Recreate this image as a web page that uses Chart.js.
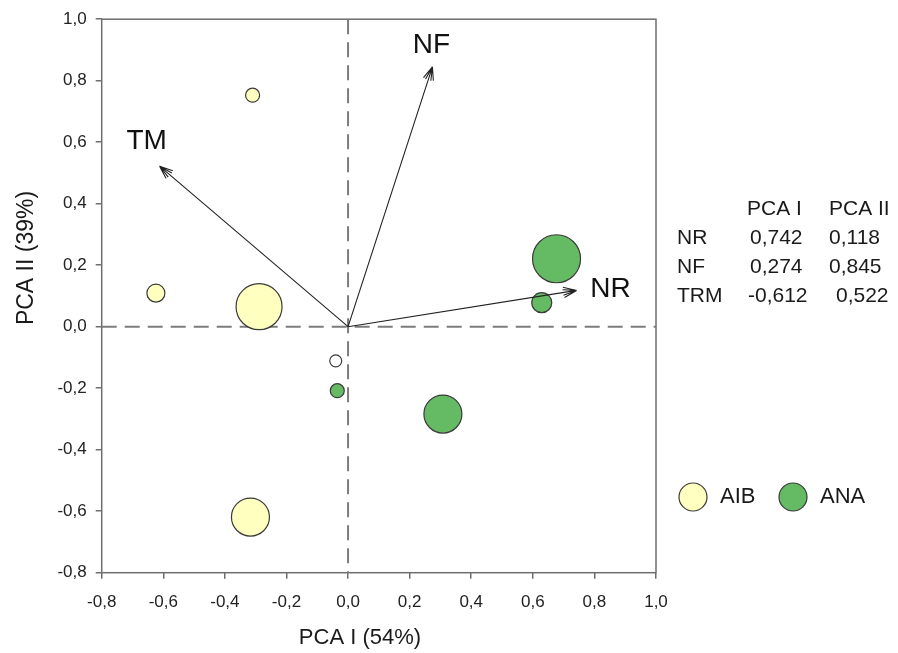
<!DOCTYPE html>
<html>
<head>
<meta charset="utf-8">
<script src="https://cdn.jsdelivr.net/npm/chart.js@4.4.1/dist/chart.umd.min.js"></script>
<style>
  html, body { margin: 0; padding: 0; background: #fff; }
</style>
</head>
<body>
<canvas id="pca" width="898" height="653"></canvas>
<script>
// axis ticks (both axes use the same range)
const axisTicks = [-0.8, -0.6, -0.4, -0.2, 0.0, 0.2, 0.4, 0.6, 0.8, 1.0];

// site scores (size = bubble radius)
const aibX = [-0.31, -0.624, -0.289, -0.317];
const aibY = [0.753, 0.109, 0.065, -0.619];
const aibSize = [7, 9, 23, 19];

const anaX = [0.677, 0.629, 0.308, -0.035];
const anaY = [0.221, 0.078, -0.284, -0.208];
const anaSize = [24, 10, 19, 7];

const otherX = [-0.04];
const otherY = [-0.111];
const otherSize = [6];

// variable loadings
const variables = ["NR", "NF", "TRM"];
const arrowLabels = ["NR", "NF", "TM"];
const loadingPC1 = [0.742, 0.274, -0.612];
const loadingPC2 = [0.118, 0.845, 0.522];

const groupNames = ["AIB", "ANA"];
const FONT = '"Liberation Sans", Arial, Helvetica, sans-serif';
const AIB_COLOR = "#ffffc0";
const ANA_COLOR = "#64bb64";
const EDGE = "#3a3a3a";
const AXIS_GREY = "#6e6e6e";

function toPoints(xs, ys, rs) {
  return xs.map((x, i) => ({ x, y: ys[i], r: rs[i] }));
}

function fmt(v) {
  if (Math.abs(v) < 1e-9) v = 0;
  return v.toFixed(1).replace(".", ",");
}

function fmt3(v) {
  return v.toFixed(3).replace(".", ",");
}

function arrow(ctx, x1, y1, x2, y2) {
  const ang = Math.atan2(y2 - y1, x2 - x1);
  ctx.beginPath();
  ctx.moveTo(x1, y1);
  ctx.lineTo(x2, y2);
  [0.38, 0.2, -0.2, -0.38].forEach((d) => {
    ctx.moveTo(x2, y2);
    ctx.lineTo(x2 - 14 * Math.cos(ang + d), y2 - 14 * Math.sin(ang + d));
  });
  ctx.stroke();
}

const overlay = {
  id: "overlay",
  beforeDatasetsDraw(chart) {
    const { ctx, chartArea: a, scales } = chart;
    const x0 = scales.x.getPixelForValue(0);
    const y0 = scales.y.getPixelForValue(0);
    ctx.save();
    // frame
    ctx.strokeStyle = AXIS_GREY;
    ctx.lineWidth = 1.5;
    ctx.strokeRect(a.left, a.top, a.right - a.left, a.bottom - a.top);
    // zero lines
    ctx.strokeStyle = "#7c7c7c";
    ctx.lineWidth = 2;
    ctx.setLineDash([15, 8]);
    ctx.beginPath();
    ctx.moveTo(a.left, y0);
    ctx.lineTo(a.right, y0);
    ctx.moveTo(x0, a.top);
    ctx.lineTo(x0, a.bottom);
    ctx.stroke();
    ctx.restore();
  },
  afterDatasetsDraw(chart) {
    const { ctx, scales } = chart;
    const x0 = scales.x.getPixelForValue(0);
    const y0 = scales.y.getPixelForValue(0);
    const labelOffset = [[34, -1], [-1, -22], [-13, -25]];
    ctx.save();
    ctx.strokeStyle = "#222";
    ctx.lineWidth = 1.1;
    ctx.fillStyle = "#111";
    ctx.font = "28px " + FONT;
    ctx.textAlign = "center";
    ctx.textBaseline = "middle";
    variables.forEach((v, i) => {
      const px = scales.x.getPixelForValue(loadingPC1[i]);
      const py = scales.y.getPixelForValue(loadingPC2[i]);
      arrow(ctx, x0, y0, px, py);
      ctx.fillText(arrowLabels[i], px + labelOffset[i][0], py + labelOffset[i][1]);
    });
    ctx.restore();
  },
  afterDraw(chart) {
    const { ctx } = chart;
    ctx.save();
    ctx.fillStyle = "#1a1a1a";
    // axis titles
    ctx.font = "22px " + FONT;
    ctx.textAlign = "center";
    ctx.textBaseline = "middle";
    ctx.fillText("PCA I (54%)", 360, 638);
    ctx.save();
    ctx.translate(27, 258);
    ctx.rotate(-Math.PI / 2);
    ctx.font = "23px " + FONT;
    ctx.fillText("PCA II (39%)", 0, 0);
    ctx.restore();

    // loadings table
    ctx.font = "21px " + FONT;
    ctx.textAlign = "left";
    ctx.fillText("PCA I", 747, 209);
    ctx.fillText("PCA II", 829, 209);
    variables.forEach((v, i) => {
      const ty = 238 + i * 29;
      ctx.fillText(v, 677, ty);
      ctx.fillText(fmt3(loadingPC1[i]), loadingPC1[i] < 0 ? 748 : 750, ty);
      ctx.fillText(fmt3(loadingPC2[i]), i === 2 ? 836 : 829, ty);
    });

    // legend
    const legendColors = [AIB_COLOR, ANA_COLOR];
    const legendX = [693, 793];
    ctx.font = "22px " + FONT;
    groupNames.forEach((g, i) => {
      ctx.beginPath();
      ctx.arc(legendX[i], 497, 14, 0, Math.PI * 2);
      ctx.fillStyle = legendColors[i];
      ctx.fill();
      ctx.strokeStyle = EDGE;
      ctx.lineWidth = 1.2;
      ctx.stroke();
      ctx.fillStyle = "#1a1a1a";
      ctx.fillText(g, legendX[i] + 27, 497);
    });
    ctx.restore();
  },
};

function axisOptions(isX) {
  return {
    type: "linear",
    min: -0.8,
    max: 1.0,
    afterBuildTicks: (scale) => {
      scale.ticks = axisTicks.map((v) => ({ value: v }));
    },
    afterFit: (scale) => {
      if (isX) scale.height = 80.3;
      else scale.width = 101.7;
    },
    grid: {
      drawOnChartArea: false,
      drawTicks: true,
      tickLength: 6,
      color: AXIS_GREY,
      tickColor: AXIS_GREY,
      lineWidth: 1.5,
    },
    border: { display: false },
    ticks: {
      callback: (v) => fmt(v),
      color: "#222",
      font: { family: FONT, size: 17 },
      padding: isX ? 13 : 9,
      maxRotation: 0,
      autoSkip: false,
    },
  };
}

new Chart(document.getElementById("pca"), {
  type: "bubble",
  data: {
    datasets: [
      {
        label: groupNames[0],
        data: toPoints(aibX, aibY, aibSize),
        backgroundColor: AIB_COLOR,
        borderColor: EDGE,
        borderWidth: 1.2,
      },
      {
        label: groupNames[1],
        data: toPoints(anaX, anaY, anaSize),
        backgroundColor: ANA_COLOR,
        borderColor: EDGE,
        borderWidth: 1.2,
      },
      {
        label: "other",
        data: toPoints(otherX, otherY, otherSize),
        backgroundColor: "#ffffff",
        borderColor: EDGE,
        borderWidth: 1.2,
      },
    ],
  },
  options: {
    responsive: false,
    animation: false,
    events: [],
    devicePixelRatio: 1,
    layout: {
      autoPadding: false,
      padding: { left: 0, right: 242, top: 16.7, bottom: 0 },
    },
    plugins: {
      legend: { display: false },
      tooltip: { enabled: false },
    },
    scales: {
      x: axisOptions(true),
      y: axisOptions(false),
    },
  },
  plugins: [overlay],
});
</script>
</body>
</html>
